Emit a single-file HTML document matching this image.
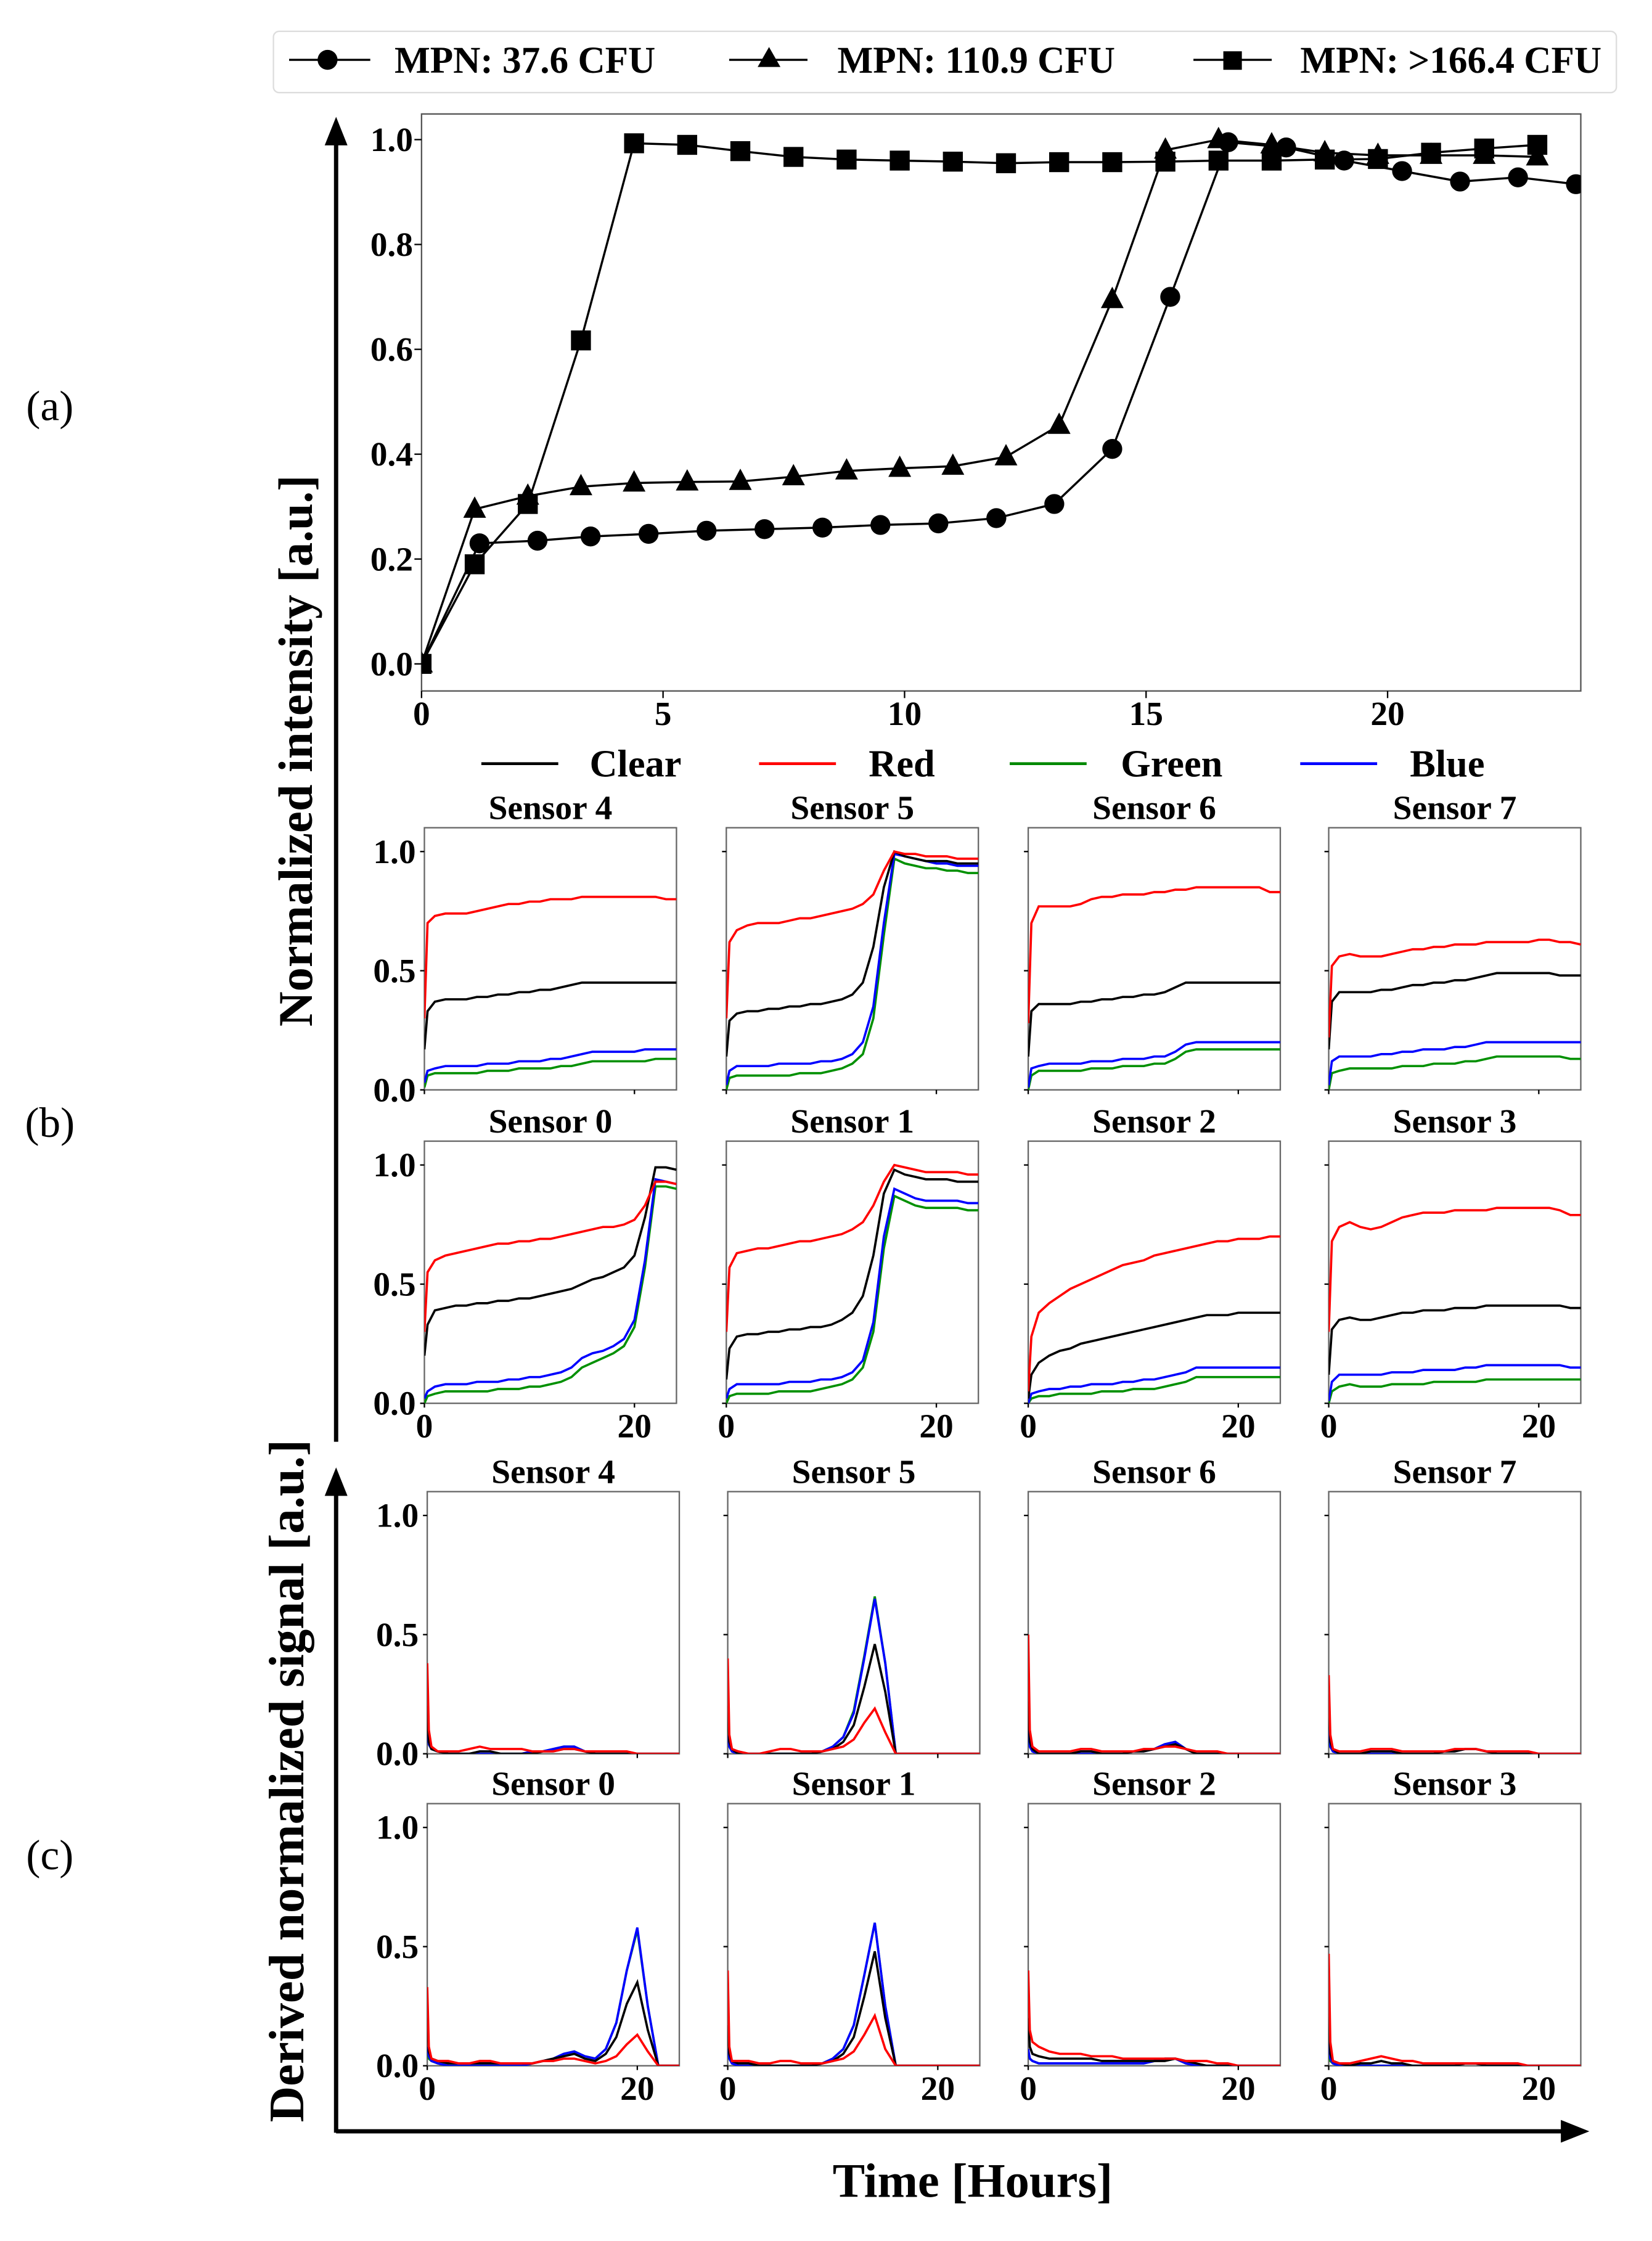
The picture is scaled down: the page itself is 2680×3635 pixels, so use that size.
<!DOCTYPE html>
<html><head><meta charset="utf-8">
<style>
html,body{margin:0;padding:0;background:#fff;}
svg{display:block;}
text{font-family:"Liberation Serif",serif;font-weight:bold;fill:#000;}
</style></head>
<body>
<svg id="fig" xmlns="http://www.w3.org/2000/svg" width="2680" height="3635" viewBox="0 0 1160 1573" preserveAspectRatio="none">
<g>
<rect x="192" y="22" width="943" height="43" rx="4" fill="#fff" stroke="#ddd" stroke-width="1"/>
<line x1="203" y1="42" x2="260" y2="42" stroke="#000" stroke-width="1.5"/><circle cx="230" cy="42" r="7"/>
<text x="277" y="51" font-size="26.5">MPN: 37.6 CFU</text>
<line x1="512" y1="42" x2="567" y2="42" stroke="#000" stroke-width="1.5"/><polygon points="540,33 548,47 532,47"/>
<text x="588" y="51" font-size="26.5">MPN: 110.9 CFU</text>
<line x1="838" y1="42" x2="893" y2="42" stroke="#000" stroke-width="1.5"/><rect x="859" y="36" width="13" height="13"/>
<text x="913" y="51" font-size="26.5">MPN: &gt;166.4 CFU</text>
</g>
<g>
<line x1="338" y1="536" x2="392" y2="536" stroke="#000" stroke-width="2"/><text x="414" y="545" font-size="27">Clear</text>
<line x1="533" y1="536" x2="587" y2="536" stroke="#f00" stroke-width="2"/><text x="610" y="545" font-size="27">Red</text>
<line x1="709" y1="536" x2="763" y2="536" stroke="#080" stroke-width="2"/><text x="787" y="545" font-size="27">Green</text>
<line x1="913" y1="536" x2="967" y2="536" stroke="#00f" stroke-width="2"/><text x="990" y="545" font-size="27">Blue</text>
</g>
<g>
<line x1="236" y1="1012" x2="236" y2="100" stroke="#000" stroke-width="3"/>
<polygon points="236,82 228,102 244,102"/>
<line x1="236" y1="1497" x2="236" y2="1048" stroke="#000" stroke-width="3"/>
<polygon points="236,1030 228,1050 244,1050"/>
<line x1="236" y1="1496" x2="1098" y2="1496" stroke="#000" stroke-width="3"/>
<polygon points="1116,1496 1096,1488 1096,1504"/>
</g>
<text font-size="34" transform="translate(219,527) rotate(-90)" text-anchor="middle">Normalized intensity [a.u.]</text>
<text font-size="35" transform="translate(213,1250) rotate(-90)" text-anchor="middle">Derived normalized signal [a.u.]</text>
<text font-size="34" x="683" y="1542" text-anchor="middle">Time [Hours]</text>
<text font-size="30" style="font-weight:normal" x="35" y="295" text-anchor="middle">(a)</text>
<text font-size="30" style="font-weight:normal" x="35" y="798" text-anchor="middle">(b)</text>
<text font-size="30" style="font-weight:normal" x="35" y="1312" text-anchor="middle">(c)</text>
<g id="topPlot"></g>
<g id="panels"></g>
</svg>
<script>
// ---- top plot data ----
const circT=[0,1.2,2.4,3.5,4.7,5.9,7.1,8.3,9.5,10.7,11.9,13.1,14.3,15.5,16.7,17.9,19.1,20.3,21.5,22.7,23.9];
const circV=[0,0.23,0.235,0.243,0.248,0.254,0.257,0.26,0.265,0.268,0.278,0.305,0.41,0.70,0.995,0.985,0.96,0.94,0.92,0.928,0.915];
const triT=[0,1.1,2.2,3.3,4.4,5.5,6.6,7.7,8.8,9.9,11,12.1,13.2,14.3,15.4,16.5,17.6,18.7,19.8,20.9,22,23.1];
const triV=[0,0.295,0.32,0.338,0.345,0.347,0.348,0.357,0.368,0.373,0.377,0.395,0.455,0.695,0.98,1.0,0.99,0.975,0.97,0.97,0.97,0.967];
const sqT=[0,1.1,2.2,3.3,4.4,5.5,6.6,7.7,8.8,9.9,11,12.1,13.2,14.3,15.4,16.5,17.6,18.7,19.8,20.9,22,23.1];
const sqV=[0,0.19,0.305,0.617,0.993,0.99,0.978,0.967,0.962,0.96,0.958,0.955,0.957,0.957,0.958,0.96,0.96,0.962,0.963,0.975,0.983,0.99];
const topXTicks=[0,5,10,15,20];
const topYTicks=[0,0.2,0.4,0.6,0.8,1.0];
const topYLabels=["0.0","0.2","0.4","0.6","0.8","1.0"];

// ---- panel (b) data ----
const bTimes=[0,0.3,1,2,3,4,5,6,7,8,9,10,11,12,13,14,15,16,17,18,19,20,21,22,23,24];
const bS4={clear:[0.17,0.33,0.37,0.38,0.38,0.38,0.39,0.39,0.40,0.40,0.41,0.41,0.42,0.42,0.43,0.44,0.45,0.45,0.45,0.45,0.45,0.45,0.45,0.45,0.45,0.45],
red:[0.3,0.7,0.73,0.74,0.74,0.74,0.75,0.76,0.77,0.78,0.78,0.79,0.79,0.80,0.80,0.80,0.81,0.81,0.81,0.81,0.81,0.81,0.81,0.81,0.80,0.80],
green:[0.01,0.06,0.07,0.07,0.07,0.07,0.07,0.08,0.08,0.08,0.09,0.09,0.09,0.09,0.10,0.10,0.11,0.12,0.12,0.12,0.12,0.12,0.12,0.13,0.13,0.13],
blue:[0.03,0.08,0.09,0.10,0.10,0.10,0.10,0.11,0.11,0.11,0.12,0.12,0.12,0.13,0.13,0.14,0.15,0.16,0.16,0.16,0.16,0.16,0.17,0.17,0.17,0.17]};
const bS5={clear:[0.14,0.29,0.32,0.33,0.33,0.34,0.34,0.35,0.35,0.36,0.36,0.37,0.38,0.40,0.45,0.60,0.85,1.0,0.98,0.97,0.96,0.96,0.96,0.95,0.95,0.95],
red:[0.3,0.62,0.67,0.69,0.70,0.70,0.70,0.71,0.72,0.72,0.73,0.74,0.75,0.76,0.78,0.82,0.92,1.0,0.99,0.99,0.98,0.98,0.98,0.97,0.97,0.97],
green:[0,0.05,0.06,0.06,0.06,0.06,0.06,0.06,0.07,0.07,0.07,0.08,0.09,0.11,0.15,0.30,0.65,0.97,0.95,0.94,0.93,0.93,0.92,0.92,0.91,0.91],
blue:[0.02,0.08,0.10,0.10,0.10,0.10,0.11,0.11,0.11,0.11,0.12,0.12,0.13,0.15,0.20,0.35,0.70,0.99,0.98,0.97,0.96,0.95,0.95,0.94,0.94,0.94]};
const bS6={clear:[0.14,0.33,0.36,0.36,0.36,0.36,0.37,0.37,0.38,0.38,0.39,0.39,0.40,0.40,0.41,0.43,0.45,0.45,0.45,0.45,0.45,0.45,0.45,0.45,0.45,0.45],
red:[0.28,0.70,0.77,0.77,0.77,0.77,0.78,0.80,0.81,0.81,0.82,0.82,0.82,0.83,0.83,0.84,0.84,0.85,0.85,0.85,0.85,0.85,0.85,0.85,0.83,0.83],
green:[0,0.06,0.08,0.08,0.08,0.08,0.08,0.09,0.09,0.09,0.10,0.10,0.10,0.11,0.11,0.13,0.16,0.17,0.17,0.17,0.17,0.17,0.17,0.17,0.17,0.17],
blue:[0.01,0.09,0.10,0.11,0.11,0.11,0.11,0.12,0.12,0.12,0.13,0.13,0.13,0.14,0.14,0.16,0.19,0.20,0.20,0.20,0.20,0.20,0.20,0.20,0.20,0.20]};
const bS7={clear:[0.17,0.37,0.41,0.41,0.41,0.41,0.42,0.42,0.43,0.44,0.44,0.45,0.45,0.46,0.46,0.47,0.48,0.49,0.49,0.49,0.49,0.49,0.49,0.48,0.48,0.48],
red:[0.22,0.52,0.56,0.57,0.56,0.56,0.56,0.57,0.58,0.59,0.59,0.60,0.60,0.61,0.61,0.61,0.62,0.62,0.62,0.62,0.62,0.63,0.63,0.62,0.62,0.61],
green:[0,0.07,0.08,0.09,0.09,0.09,0.09,0.09,0.10,0.10,0.10,0.11,0.11,0.11,0.12,0.12,0.13,0.14,0.14,0.14,0.14,0.14,0.14,0.14,0.13,0.13],
blue:[0.02,0.12,0.14,0.14,0.14,0.14,0.15,0.15,0.16,0.16,0.17,0.17,0.17,0.18,0.18,0.19,0.20,0.20,0.20,0.20,0.20,0.20,0.20,0.20,0.20,0.20]};
const bS0={clear:[0.2,0.33,0.39,0.40,0.41,0.41,0.42,0.42,0.43,0.43,0.44,0.44,0.45,0.46,0.47,0.48,0.50,0.52,0.53,0.55,0.57,0.62,0.78,0.99,0.99,0.98],
red:[0.3,0.55,0.60,0.62,0.63,0.64,0.65,0.66,0.67,0.67,0.68,0.68,0.69,0.69,0.70,0.71,0.72,0.73,0.74,0.74,0.75,0.77,0.83,0.93,0.93,0.92],
green:[0,0.03,0.04,0.05,0.05,0.05,0.05,0.05,0.06,0.06,0.06,0.07,0.07,0.08,0.09,0.11,0.15,0.17,0.19,0.21,0.24,0.32,0.57,0.91,0.91,0.90],
blue:[0.02,0.05,0.07,0.08,0.08,0.08,0.09,0.09,0.09,0.10,0.10,0.11,0.11,0.12,0.13,0.15,0.19,0.21,0.22,0.24,0.27,0.35,0.60,0.94,0.93,0.92]};
const bS1={clear:[0.1,0.23,0.28,0.29,0.29,0.30,0.30,0.31,0.31,0.32,0.32,0.33,0.35,0.38,0.45,0.62,0.88,0.98,0.96,0.95,0.94,0.94,0.94,0.93,0.93,0.93],
red:[0.3,0.57,0.63,0.64,0.65,0.65,0.66,0.67,0.68,0.68,0.69,0.70,0.71,0.73,0.76,0.83,0.93,1.0,0.99,0.98,0.97,0.97,0.97,0.97,0.96,0.96],
green:[0,0.03,0.04,0.04,0.04,0.04,0.05,0.05,0.05,0.05,0.06,0.07,0.08,0.10,0.15,0.30,0.65,0.87,0.85,0.83,0.82,0.82,0.82,0.82,0.81,0.81],
blue:[0.02,0.06,0.08,0.08,0.08,0.08,0.08,0.09,0.09,0.09,0.10,0.10,0.11,0.13,0.18,0.34,0.70,0.90,0.88,0.86,0.85,0.85,0.85,0.85,0.84,0.84]};
const bS2={clear:[0.02,0.12,0.17,0.20,0.22,0.23,0.25,0.26,0.27,0.28,0.29,0.30,0.31,0.32,0.33,0.34,0.35,0.36,0.37,0.37,0.37,0.38,0.38,0.38,0.38,0.38],
red:[0.05,0.28,0.38,0.42,0.45,0.48,0.50,0.52,0.54,0.56,0.58,0.59,0.60,0.62,0.63,0.64,0.65,0.66,0.67,0.68,0.68,0.69,0.69,0.69,0.70,0.70],
green:[0,0.02,0.03,0.03,0.04,0.04,0.04,0.04,0.05,0.05,0.05,0.06,0.06,0.06,0.07,0.08,0.09,0.11,0.11,0.11,0.11,0.11,0.11,0.11,0.11,0.11],
blue:[0,0.04,0.05,0.06,0.06,0.07,0.07,0.08,0.08,0.08,0.09,0.09,0.10,0.10,0.11,0.12,0.13,0.15,0.15,0.15,0.15,0.15,0.15,0.15,0.15,0.15]};
const bS3={clear:[0.12,0.31,0.35,0.36,0.35,0.35,0.36,0.37,0.38,0.38,0.39,0.39,0.39,0.40,0.40,0.40,0.41,0.41,0.41,0.41,0.41,0.41,0.41,0.41,0.40,0.40],
red:[0.3,0.68,0.74,0.76,0.74,0.73,0.74,0.76,0.78,0.79,0.80,0.80,0.80,0.81,0.81,0.81,0.81,0.82,0.82,0.82,0.82,0.82,0.82,0.81,0.79,0.79],
green:[0,0.05,0.07,0.08,0.07,0.07,0.07,0.08,0.08,0.08,0.08,0.09,0.09,0.09,0.09,0.09,0.10,0.10,0.10,0.10,0.10,0.10,0.10,0.10,0.10,0.10],
blue:[0.01,0.09,0.12,0.12,0.12,0.12,0.12,0.13,0.13,0.13,0.14,0.14,0.14,0.14,0.15,0.15,0.16,0.16,0.16,0.16,0.16,0.16,0.16,0.16,0.15,0.15]};

// ---- panel (c) data ----
const cTimes=[0,0.15,0.4,1,2,3,4,5,6,7,8,9,10,11,12,13,14,15,16,17,18,19,20,21,22,23,24];
const cS4={clear:[0.2,0.05,0.02,0.01,0,0,0,0.01,0.01,0,0,0,0,0.01,0.01,0.02,0.02,0.01,0,0,0,0,0,0,0,0,0],
red:[0.38,0.1,0.03,0.01,0.01,0.01,0.02,0.03,0.02,0.02,0.02,0.02,0.01,0.01,0.01,0.02,0.02,0.01,0.01,0.01,0.01,0.01,0,0,0,0,0],
green:[0.07,0.04,0.02,0.01,0,0,0,0,0,0,0,0,0.01,0.01,0.02,0.03,0.03,0.01,0,0,0,0,0,0,0,0,0],
blue:[0.08,0.04,0.02,0.01,0,0,0,0,0,0,0,0,0.01,0.01,0.02,0.03,0.03,0.01,0,0,0,0,0,0,0,0,0]};
const cS5={clear:[0.2,0.05,0.02,0,0,0,0,0,0,0,0,0.01,0.02,0.05,0.12,0.28,0.46,0.26,0,0,0,0,0,0,0,0,0],
red:[0.4,0.08,0.02,0.01,0,0,0.01,0.02,0.02,0.01,0.01,0.01,0.02,0.03,0.06,0.13,0.19,0.09,0,0,0,0,0,0,0,0,0],
green:[0.1,0.03,0.01,0,0,0,0,0,0,0,0,0.01,0.03,0.07,0.18,0.41,0.66,0.38,0,0,0,0,0,0,0,0,0],
blue:[0.08,0.03,0.01,0,0,0,0,0,0,0,0,0.01,0.03,0.07,0.17,0.40,0.65,0.38,0,0,0,0,0,0,0,0,0]};
const cS6={clear:[0.22,0.05,0.02,0,0,0,0,0.01,0.01,0,0,0,0.01,0.01,0.02,0.03,0.04,0.02,0,0,0,0,0,0,0,0,0],
red:[0.5,0.1,0.03,0.01,0.01,0.01,0.01,0.02,0.02,0.01,0.01,0.01,0.01,0.02,0.02,0.03,0.03,0.02,0.01,0.01,0.01,0,0,0,0,0,0],
green:[0.06,0.03,0.01,0,0,0,0,0,0,0,0,0,0.01,0.01,0.02,0.04,0.05,0.02,0,0,0,0,0,0,0,0,0],
blue:[0.1,0.03,0.01,0,0,0,0,0,0,0,0,0,0.01,0.01,0.02,0.04,0.05,0.02,0,0,0,0,0,0,0,0,0]};
const cS7={clear:[0.25,0.05,0.02,0,0,0,0.01,0.01,0.01,0,0,0,0,0.01,0.01,0.02,0.02,0.01,0,0,0,0,0,0,0,0,0],
red:[0.33,0.08,0.02,0.01,0.01,0.01,0.02,0.02,0.02,0.01,0.01,0.01,0.01,0.01,0.02,0.02,0.02,0.01,0.01,0.01,0.01,0.01,0,0,0,0,0],
green:[0.05,0.03,0.01,0,0,0,0,0,0,0,0,0,0,0.01,0.01,0.02,0.02,0.01,0,0,0,0,0,0,0,0,0],
blue:[0.12,0.03,0.01,0,0,0,0,0,0,0,0,0,0,0.01,0.01,0.02,0.02,0.01,0,0,0,0,0,0,0,0,0]};
const cS0={clear:[0.2,0.06,0.03,0.02,0.01,0.01,0.01,0.01,0.01,0.01,0.01,0.01,0.01,0.02,0.03,0.04,0.05,0.03,0.02,0.05,0.12,0.26,0.35,0.15,0,0,0],
red:[0.33,0.08,0.03,0.02,0.02,0.01,0.01,0.02,0.02,0.01,0.01,0.01,0.01,0.02,0.02,0.03,0.03,0.02,0.01,0.02,0.04,0.09,0.13,0.06,0,0,0],
green:[0.07,0.03,0.02,0.01,0,0,0,0,0,0,0,0,0.01,0.02,0.03,0.05,0.06,0.04,0.03,0.07,0.18,0.40,0.57,0.25,0,0,0],
blue:[0.08,0.04,0.02,0.01,0,0,0,0,0,0,0,0,0.01,0.02,0.03,0.05,0.06,0.04,0.03,0.07,0.18,0.40,0.58,0.25,0,0,0]};
const cS1={clear:[0.17,0.05,0.02,0.01,0.01,0,0,0,0,0,0,0.01,0.02,0.05,0.12,0.29,0.48,0.2,0,0,0,0,0,0,0,0,0],
red:[0.4,0.08,0.02,0.02,0.02,0.01,0.01,0.02,0.02,0.01,0.01,0.01,0.02,0.03,0.06,0.13,0.21,0.07,0,0,0,0,0,0,0,0,0],
green:[0.06,0.03,0.01,0,0,0,0,0,0,0,0,0.01,0.03,0.07,0.17,0.38,0.60,0.25,0,0,0,0,0,0,0,0,0],
blue:[0.07,0.03,0.01,0,0,0,0,0,0,0,0,0.01,0.03,0.07,0.17,0.38,0.60,0.25,0,0,0,0,0,0,0,0,0]};
const cS2={clear:[0.2,0.08,0.05,0.04,0.03,0.03,0.03,0.03,0.03,0.02,0.02,0.02,0.02,0.02,0.02,0.02,0.03,0.02,0.01,0,0,0,0,0,0,0,0],
red:[0.4,0.15,0.1,0.08,0.06,0.05,0.05,0.05,0.04,0.04,0.04,0.03,0.03,0.03,0.03,0.03,0.03,0.02,0.02,0.02,0.01,0.01,0,0,0,0,0],
green:[0.05,0.03,0.02,0.01,0.01,0.01,0.01,0.01,0.01,0.01,0.01,0.01,0.01,0.01,0.02,0.03,0.03,0.01,0,0,0,0,0,0,0,0,0],
blue:[0.07,0.03,0.02,0.01,0.01,0.01,0.01,0.01,0.01,0.01,0.01,0.01,0.01,0.01,0.02,0.03,0.03,0.01,0,0,0,0,0,0,0,0,0]};
const cS3={clear:[0.22,0.05,0.02,0.01,0,0.01,0.01,0.02,0.01,0.01,0,0,0,0,0,0.01,0.01,0,0,0,0,0,0,0,0,0,0],
red:[0.47,0.1,0.02,0.01,0.01,0.02,0.03,0.04,0.03,0.02,0.02,0.01,0.01,0.01,0.01,0.01,0.01,0.01,0.01,0.01,0.01,0,0,0,0,0,0],
green:[0.06,0.02,0.01,0,0,0,0,0,0,0,0,0,0,0,0,0.01,0.01,0,0,0,0,0,0,0,0,0,0],
blue:[0.1,0.03,0.01,0,0,0,0,0,0,0,0,0,0,0,0,0.01,0.01,0,0,0,0,0,0,0,0,0,0]};
const sensorTitlesTop=["Sensor 4","Sensor 5","Sensor 6","Sensor 7"];
const sensorTitlesBottom=["Sensor 0","Sensor 1","Sensor 2","Sensor 3"];
const panelYTicks=[0,0.5,1.0];
const panelYLabels=["0.0","0.5","1.0"];
const panelXTicks=[0,20];

const NS="http://www.w3.org/2000/svg";
function mk(tag,attrs,parent){const e=document.createElementNS(NS,tag);for(const k in attrs)e.setAttribute(k,attrs[k]);parent.appendChild(e);return e;}

// ---- top plot ----
const topG=document.getElementById('topPlot');


const TX0=296,TX1=1110,TY0=80,TY1=485;
const tx=v=>TX0+v*(TX1-TX0)/24;
const ty=v=>466-v*368;
const tfr=mk('rect',{x:TX0,y:TY0,width:TX1-TX0,height:TY1-TY0,fill:'none',stroke:'#555','stroke-width':1},topG);


topYTicks.forEach((v,i)=>{
  mk('line',{x1:TX0-5,x2:TX0,y1:ty(v),y2:ty(v),stroke:'#000','stroke-width':1},topG);
  const t=mk('text',{x:TX0-6,y:ty(v)+8,'font-size':24,'text-anchor':'end'},topG);t.textContent=topYLabels[i];
  
  
});
topXTicks.forEach(v=>{
  mk('line',{x1:tx(v),x2:tx(v),y1:TY1,y2:TY1+5,stroke:'#000','stroke-width':1},topG);
  const t=mk('text',{x:tx(v),y:TY1+24,'font-size':24,'text-anchor':'middle'},topG);t.textContent=v;
  
  
});
const clipT=mk('clipPath',{id:'clipTop'},topG);mk('rect',{x:TX0,y:TY0,width:TX1-TX0,height:TY1-TY0},clipT);
function series(T,V,shape,name){
  const g=mk('g',{'clip-path':'url(#clipTop)'},topG);
  
  
  mk('polyline',{points:T.map((t,i)=>tx(t)+','+ty(V[i])).join(' '),fill:'none',stroke:'#000','stroke-width':1.5},g);
  T.forEach((t,i)=>{const x=tx(t),y=ty(V[i]);let m;
    if(shape==='c')m=mk('circle',{cx:x,cy:y,r:7},g);
    else if(shape==='t')m=mk('polygon',{points:`${x},${y-9} ${x+8},${y+6} ${x-8},${y+6}`},g);
    else m=mk('rect',{x:x-7,y:y-7,width:14,height:14},g);
    
    
  });
}
series(circT,circV,'c','series-mpn-37-6');
series(triT,triV,'t','series-mpn-110-9');
series(sqT,sqV,'s','series-mpn-166-4');

// ---- panels ----
const panels=document.getElementById('panels');
const colors={clear:'#000',red:'#f00',green:'#009000',blue:'#00f'};
let pid=0;
function panel(x0,yTop,title,times,data,showY,showX,name){
  const W=177,H=184,ymax=1.1;
  const g=mk('g',{},panels);
  
  
  const px=v=>x0+v*W/24, py=v=>yTop+H-v*H/ymax;
  const id='pc'+(pid++);
  const cp=mk('clipPath',{id:id},g);mk('rect',{x:x0,y:yTop,width:W,height:H},cp);
  const fr=mk('rect',{x:x0,y:yTop,width:W,height:H,fill:'none',stroke:'#666','stroke-width':1},g);
  
  
  const tt=mk('text',{x:x0+W/2,y:yTop-6,'font-size':24,'text-anchor':'middle'},g);tt.textContent=title;
  
  
  panelYTicks.forEach((v,i)=>{
    mk('line',{x1:x0-3,x2:x0,y1:py(v),y2:py(v),stroke:'#000','stroke-width':1},g);
    if(showY){const t=mk('text',{x:x0-6,y:py(v)+8,'font-size':24,'text-anchor':'end'},g);t.textContent=panelYLabels[i];
      
      }
  });
  panelXTicks.forEach(v=>{
    mk('line',{x1:px(v),x2:px(v),y1:yTop+H,y2:yTop+H+3,stroke:'#000','stroke-width':1},g);
    if(showX){const t=mk('text',{x:px(v),y:yTop+H+24,'font-size':24,'text-anchor':'middle'},g);t.textContent=v;
      
      }
  });
  ['green','blue','clear','red'].forEach(ch=>{
    const l=mk('polyline',{points:times.map((t,i)=>px(t)+','+py(data[ch][i])).join(' '),fill:'none',stroke:colors[ch],'stroke-width':1.6,'clip-path':`url(#${id})`},g);
    
    
  });
}
const bCols=[298,510,722,933], cCols=[300,511,722,933];
[bS4,bS5,bS6,bS7].forEach((d,i)=>panel(bCols[i],581,sensorTitlesTop[i],bTimes,d,i===0,false,'intensity-'+sensorTitlesTop[i].replace(' ','-').toLowerCase()));
[bS0,bS1,bS2,bS3].forEach((d,i)=>panel(bCols[i],801,sensorTitlesBottom[i],bTimes,d,i===0,true,'intensity-'+sensorTitlesBottom[i].replace(' ','-').toLowerCase()));
[cS4,cS5,cS6,cS7].forEach((d,i)=>panel(cCols[i],1047,sensorTitlesTop[i],cTimes,d,i===0,false,'derived-'+sensorTitlesTop[i].replace(' ','-').toLowerCase()));
[cS0,cS1,cS2,cS3].forEach((d,i)=>panel(cCols[i],1266,sensorTitlesBottom[i],cTimes,d,i===0,true,'derived-'+sensorTitlesBottom[i].replace(' ','-').toLowerCase()));
</script>
</body></html>
